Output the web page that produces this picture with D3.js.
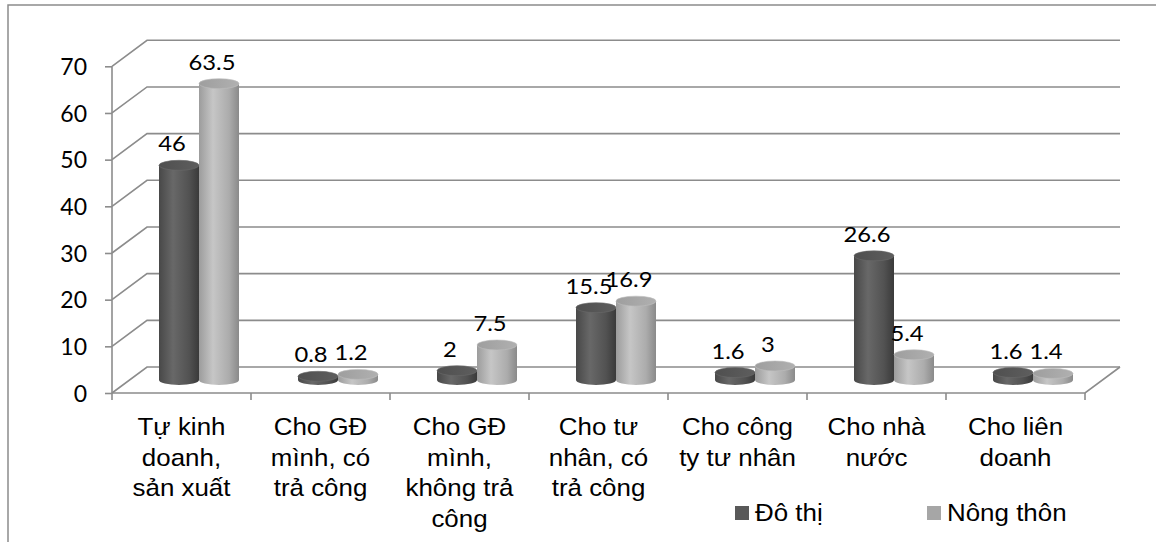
<!DOCTYPE html>
<html>

<head>
  <meta http-equiv="Content-Type" content="text/html;charset=utf-8" />
  <style type="text/css">
    body { margin: 0; background: #fff; }
    .grid { stroke: #8c8c8c; stroke-width: 1.6; fill: none; }
    .tick text { font-family: Lato, sans-serif; font-size: 23px; fill: #000; }
    .cat { font-family: "Liberation Sans", Arial, sans-serif; font-size: 24px; fill: #000; }
    .val { font-family: Lato, sans-serif; font-size: 22px; fill: #000; }
  </style>
</head>

<body>
  <div id="svgContainer"></div>
  <script src="https://d3js.org/d3.v7.min.js"></script>

  <script type="text/javascript">
    // data
    var categoryLines = [
      ["Tự kinh", "doanh,", "sản xuất"],
      ["Cho GĐ", "mình, có", "trả công"],
      ["Cho GĐ", "mình,", "không trả", "công"],
      ["Cho tư", "nhân, có", "trả công"],
      ["Cho công", "ty tư nhân"],
      ["Cho nhà", "nước"],
      ["Cho liên", "doanh"]
    ];
    var doThi = [46, 0.8, 2, 15.5, 1.6, 26.6, 1.6];
    var nongThon = [63.5, 1.2, 7.5, 16.9, 3, 5.4, 1.4];
    var seriesNames = ["Đô thị", "Nông thôn"];
    var yTicks = [0, 10, 20, 30, 40, 50, 60, 70];

    var w = 1156, h = 542;
    var plotL = 112, plotR = 1085, plotB = 393, plotT = 66.3;
    var dx = 35, dy = -26;   // depth of the 3d box
    var r = 20, ry = 5;      // cylinder radius, ellipse squash
    var sx = 1.08;           // picture is a bit stretched sideways

    var svg = d3.select("#svgContainer")
      .append("svg")
      .attr("width", w)
      .attr("height", h);

    var defs = svg.append("defs");
    function grad(id, stops) {
      var g = defs.append("linearGradient").attr("id", id)
        .attr("x1", 0).attr("x2", 1).attr("y1", 0).attr("y2", 0);
      stops.forEach(function (s) {
        g.append("stop").attr("offset", s[0]).attr("stop-color", s[1]);
      });
    }
    grad("darkSide", [[0, "#484848"], [0.35, "#686868"], [0.75, "#525252"], [1, "#3a3a3a"]]);
    grad("lightSide", [[0, "#9c9c9c"], [0.35, "#c6c6c6"], [0.75, "#acacac"], [1, "#8a8a8a"]]);
    grad("darkTop", [[0, "#4f4f4f"], [1, "#5e5e5e"]]);
    grad("lightTop", [[0, "#9e9e9e"], [1, "#b0b0b0"]]);

    var series = [
      { name: seriesNames[0], values: doThi, side: "url(#darkSide)", topFill: "url(#darkTop)", key: "#595959" },
      { name: seriesNames[1], values: nongThon, side: "url(#lightSide)", topFill: "url(#lightTop)", key: "#a6a6a6" }
    ];

    var xScale = d3.scaleBand().domain(d3.range(categoryLines.length)).range([plotL, plotR]);
    var yScale = d3.scaleLinear().domain([0, 70]).range([plotB, plotT]);
    var xSub = d3.scaleBand().domain([0, 1]).range([-2 * r, 2 * r]);

    // outer frame (only top and left edges show)
    svg.append("path")
      .attr("d", "M8,542 L8,5 L1156,5")
      .attr("stroke", "#8c8c8c").attr("stroke-width", 1.5).attr("fill", "none");

    // back wall gridlines and side wall diagonals
    svg.selectAll(".back")
      .data(yTicks)
      .enter()
      .append("path")
      .attr("class", "grid")
      .attr("d", (d) => "M" + plotL + "," + yScale(d) + " L" + (plotL + dx) + "," + (yScale(d) + dy) +
        " L" + (plotR + dx) + "," + (yScale(d) + dy));

    // floor front edge and right diagonal
    svg.append("path")
      .attr("class", "grid")
      .attr("d", "M" + plotL + "," + plotB + " L" + plotR + "," + plotB + " L" + (plotR + dx) + "," + (plotB + dy));

    // category boundary ticks
    svg.selectAll(".xt")
      .data(d3.range(categoryLines.length + 1))
      .enter()
      .append("line")
      .attr("class", "grid")
      .attr("x1", (d) => plotL + d * xScale.bandwidth())
      .attr("x2", (d) => plotL + d * xScale.bandwidth())
      .attr("y1", plotB)
      .attr("y2", plotB + 7);

    // y axis
    var yAxis = d3.axisLeft(yScale).tickValues(yTicks).tickSize(7).tickSizeOuter(0).tickPadding(18);
    var ya = svg.append("g")
      .attr("transform", "translate(" + plotL + ",0)")
      .call(yAxis);
    ya.selectAll("path, line").attr("stroke", "#8c8c8c").attr("stroke-width", 1.6);
    ya.select(".domain").attr("d", "M0," + plotB + "V" + plotT);
    ya.selectAll("text").attr("dy", "0.36em");

    // cylinders
    series.forEach(function (s, si) {
      var g = svg.append("g");
      var yb = plotB + dy / 2;
      var cyl = g.selectAll("g")
        .data(s.values)
        .enter()
        .append("g");

      cyl.append("path")
        .attr("fill", s.side)
        .attr("d", function (d, i) {
          var cx = xScale(i) + xScale.bandwidth() / 2 + dx / 2 + xSub(si) + r;
          var yt = yScale(d) + dy / 2;
          return "M" + (cx - r) + "," + yb + " L" + (cx - r) + "," + yt + " L" + (cx + r) + "," + yt +
            " L" + (cx + r) + "," + yb + " A" + r + "," + ry + " 0 0 1 " + (cx - r) + "," + yb + " Z";
        });

      cyl.append("ellipse")
        .attr("cx", (d, i) => xScale(i) + xScale.bandwidth() / 2 + dx / 2 + xSub(si) + r)
        .attr("cy", (d) => yScale(d) + dy / 2)
        .attr("rx", r)
        .attr("ry", ry)
        .attr("fill", s.topFill)
        .attr("stroke", si === 0 ? "#6a6a6a" : "#bdbdbd")
        .attr("stroke-width", 0.6);

      cyl.append("text")
        .attr("class", "val")
        .attr("text-anchor", "middle")
        .attr("transform", (d, i) => "translate(" + (xScale(i) + xScale.bandwidth() / 2 + dx / 2 + xSub(si) + r - 7) +
          "," + (yScale(d) + dy / 2 - 14) + ") scale(" + sx + ",1)")
        .text((d) => d);
    });

    // category labels
    var cats = svg.selectAll(".catg")
      .data(categoryLines)
      .enter()
      .append("text")
      .attr("class", "cat")
      .attr("text-anchor", "middle")
      .attr("transform", (d, i) => "translate(" + (xScale(i) + xScale.bandwidth() / 2) + ",435) scale(" + sx + ",1)");
    cats.selectAll("tspan")
      .data((d) => d)
      .enter()
      .append("tspan")
      .attr("x", 0)
      .attr("y", (d, i) => i * 30.6)
      .text((d) => d);

    // legend
    var legX = [735, 927];
    var leg = svg.selectAll(".leg")
      .data(series)
      .enter()
      .append("g")
      .attr("transform", (d, i) => "translate(" + legX[i] + ",506)");
    leg.append("rect")
      .attr("width", 14).attr("height", 14)
      .attr("fill", (d) => d.key);
    leg.append("text")
      .attr("class", "cat")
      .attr("transform", "translate(20,15) scale(" + sx + ",1)")
      .text((d) => d.name);
  </script>
</body>

</html>
